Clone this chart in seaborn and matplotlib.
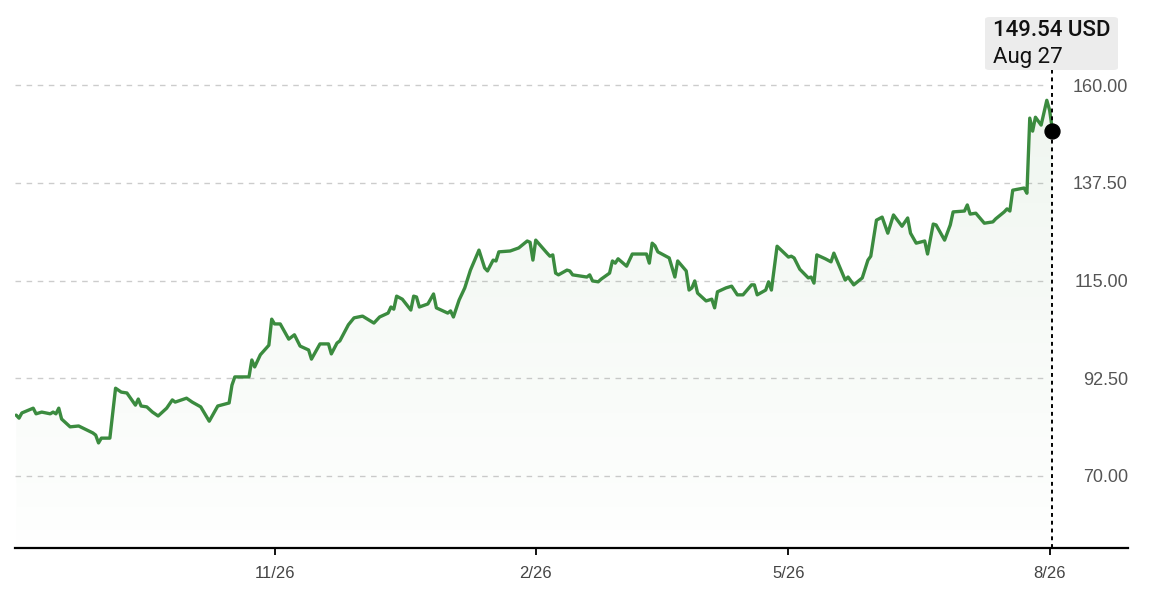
import numpy as np
import pandas as pd
import matplotlib
matplotlib.use("Agg")
import matplotlib.pyplot as plt
import matplotlib.dates as mdates
import matplotlib.transforms as mtransforms
from matplotlib.patches import FancyBboxPatch
import seaborn as sns

# data (days counted from the first session)
start_date = "2024-08-27"
day_offsets = [0, 1, 2, 6, 7, 9, 12, 13, 14, 15, 16, 19, 22, 27, 28, 29, 30, 33,
               35, 37, 39, 42, 43, 44, 46, 48, 50, 53, 55, 56, 60, 62, 65, 68,
               71, 75, 76, 77, 82, 83, 84, 86, 89, 90, 91, 93, 96, 98, 100, 103,
               104, 107, 110, 111, 113, 114, 117, 119, 122, 126, 128, 131, 132,
               133, 134, 136, 139, 140, 141, 142, 145, 147, 148, 152, 153, 154,
               156, 158, 160, 163, 165, 166, 168, 169, 170, 174, 177, 180, 181,
               182, 183, 187, 188, 189, 190, 191, 194, 195, 196, 201, 202, 203,
               205, 206, 209, 210, 211, 212, 215, 217, 222, 223, 224, 225, 226,
               230, 232, 233, 236, 237, 238, 239, 240, 243, 245, 246, 247, 250,
               252, 254, 256, 259, 260, 261, 264, 265, 266, 268, 272, 273, 274,
               276, 279, 280, 281, 282, 285, 287, 288, 292, 293, 295, 298, 300,
               301, 303, 305, 307, 309, 312, 314, 315, 317, 320, 321, 323, 324,
               327, 329, 330, 334, 335, 336, 338, 341, 344, 345, 348, 349, 350,
               351, 355, 356, 357, 358, 359, 361, 363, 364, 365]
prices = [84.0, 83.3, 84.5, 85.6, 84.3, 84.7, 84.3, 84.7, 84.3, 85.6, 83.1, 81.3,
          81.5, 79.9, 79.4, 77.6, 78.7, 78.7, 90.2, 89.3, 89.1, 86.3, 87.7, 86.1,
          85.9, 84.7, 83.8, 85.6, 87.5, 87.0, 87.9, 87.0, 85.9, 82.6,
          86.1, 86.8, 90.9, 92.8, 92.8, 96.7, 95.1, 97.9, 100.1, 106.1, 105.0,
          105.0, 101.5, 102.5, 99.9, 99.0, 96.9, 100.4, 100.4, 98.1, 100.6,
          101.1, 104.8, 106.4, 106.8, 105.2, 106.6, 107.5, 108.9, 108.4, 111.4,
          110.7, 108.2, 111.4, 111.2, 108.9, 109.6, 111.9, 108.7, 107.5, 108.0,
          106.6, 110.5, 113.3, 117.4, 122.0, 117.9, 117.2, 119.7, 119.5, 121.6,
          121.8, 122.5, 124.1, 123.8, 119.7, 124.3, 121.3, 120.6, 120.9, 116.7,
          116.3, 117.4, 117.2, 116.3, 115.8, 116.3, 114.9, 114.7, 115.3, 116.7,
          119.5, 119.0, 120.0, 118.3, 121.1, 121.1, 119.0, 123.6, 123.0, 121.6,
          120.2, 115.8, 119.5, 117.2, 112.8, 113.3, 114.9, 112.1, 110.3, 110.7,
          108.7, 112.4, 113.3, 113.7, 111.7, 111.7, 114.0, 114.0, 111.7, 112.8,
          114.7, 112.8, 122.9, 120.4, 120.6, 120.2, 117.6, 115.6, 115.8, 114.4,
          120.9, 120.0, 119.3, 121.3, 115.1, 115.8, 114.0, 115.6, 119.7, 120.6,
          128.9, 129.6, 125.9, 130.1, 127.5, 129.4, 125.9, 123.6, 124.1, 121.1,
          128.0, 127.8, 124.3, 127.8, 130.8, 131.0, 132.4, 130.3, 130.5, 128.2,
          128.5, 129.2, 130.8, 131.5, 131.0, 135.8, 136.3, 135.1, 152.4, 149.4,
          152.6, 150.8, 156.5, 154.2, 149.54]

tick_dates = ["2024-11-26", "2025-02-26", "2025-05-26", "2025-08-26"]
tick_labels = ["11/26", "2/26", "5/26", "8/26"]
y_ticks = [70.0, 92.5, 115.0, 137.5, 160.0]
tip_price = "149.54 USD"
tip_date = "Aug 27"

GREEN = "#3b8b3f"

df = pd.DataFrame({
    "date": pd.Timestamp(start_date) + pd.to_timedelta(day_offsets, unit="D"),
    "price": prices,
})

sns.set_theme(style="white")
plt.rcParams["font.family"] = ["Liberation Sans", "DejaVu Sans"]

fig = plt.figure(figsize=(11.6, 6.06), dpi=100)
ax = fig.add_axes([15 / 1160, 58 / 606, 1113 / 1160, 548 / 606])

ylo, yhi = 53.4, 179.6

# gradient fill under the line
poly = ax.fill_between(df["date"], df["price"], ylo, color="none", lw=0)
xnum = mdates.date2num(df["date"])
rgb = matplotlib.colors.to_rgb(GREEN)
grad = np.zeros((256, 1, 4))
grad[..., :3] = rgb
grad[:, 0, 3] = np.linspace(0.08, 0.005, 256)
im = ax.imshow(grad, extent=[xnum[0], xnum[-1], ylo, max(prices)],
               aspect="auto", origin="upper", zorder=1)
im.set_clip_path(poly.get_paths()[0], transform=ax.transData)

sns.lineplot(data=df, x="date", y="price", color=GREEN, linewidth=2.4,
             ax=ax, zorder=3)

# grid + right side labels
trans = mtransforms.blended_transform_factory(ax.transAxes, ax.transData)
for v in y_ticks:
    ax.axhline(v, xmin=0, xmax=0.927, color="#cccccc", lw=1.0,
               ls=(0, (4, 4)), zorder=0)
    ax.text(1.0, v, f"{v:.2f}", transform=trans, ha="right",
            va="center_baseline", fontsize=13, color="#555555")

# last point marker + crosshair
last_date = df["date"].iloc[-1]
last_price = df["price"].iloc[-1]
ax.axvline(last_date, ymin=0, ymax=(548 - 70) / 548, color="black", lw=1.4,
           ls=(0, (2, 2)), zorder=4)
ax.scatter([last_date], [last_price], s=115, color="black", zorder=5)

ax.set_ylim(ylo, yhi)
ax.set_xlim(pd.Timestamp(start_date) - pd.Timedelta(hours=10),
            pd.Timestamp(start_date) + pd.Timedelta(days=391.6))
ax.set_yticks([])
ax.set_xticks(pd.to_datetime(tick_dates))
ax.set_xticklabels(tick_labels)
ax.tick_params(axis="x", bottom=True, length=5, width=1.3, color="black",
               pad=8, labelsize=12, labelcolor="#444444")
ax.set_xlabel("")
ax.set_ylabel("")
for s in ["top", "left", "right"]:
    ax.spines[s].set_visible(False)
ax.spines["bottom"].set_color("black")
ax.spines["bottom"].set_linewidth(1.6)
ax.patch.set_alpha(0)

# tooltip
box = FancyBboxPatch((985 / 1160, 1 - 70 / 606), 133 / 1160, 53 / 606,
                     boxstyle="round,pad=0,rounding_size=0.004",
                     transform=fig.transFigure, fc="#ececec", ec="none")
fig.add_artist(box)
fig.text(993 / 1160, 1 - 31 / 606, tip_price, ha="left", va="center",
         fontsize=16, fontweight="medium", color="#111111",
         family=["Roboto", "DejaVu Sans"])
fig.text(993 / 1160, 1 - 57 / 606, tip_date, ha="left", va="center",
         fontsize=16, color="#111111", family=["Roboto", "DejaVu Sans"])

fig.savefig("out.png", dpi=100)
